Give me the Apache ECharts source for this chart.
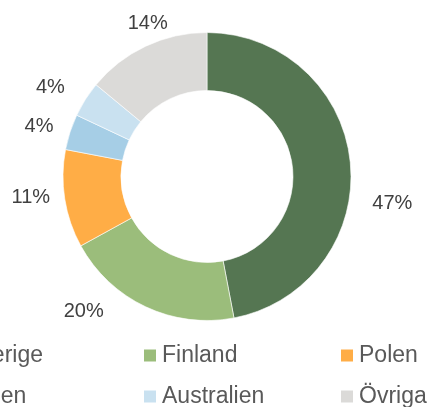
<!DOCTYPE html>
<html>
<head>
<meta charset="utf-8">
<script src="https://cdn.jsdelivr.net/npm/echarts@6/dist/echarts.min.js"></script>
<style>
html, body { margin: 0; padding: 0; background: #fff; }
#chart { width: 429px; height: 407px; }
</style>
</head>
<body>
<div id="chart"></div>
<script>
var countries = ['Sverige', 'Finland', 'Polen', 'Italien', 'Australien', 'Övriga'];
var shares = [47, 20, 11, 4, 4, 14];

var colors = ['#557652', '#9bbd7b', '#ffad46', '#a6cee6', '#c9e1f0', '#dbdad8'];
// label offsets (px) from the outer edge at the middle of each slice
var labelNudge = [[42, 41], [-62, 5], [-34, -2], [-31, -6], [-35, -12], [2, -23]];
// legend grid: 3 columns x 2 rows
var legendCols = [-55, 142, 339];
var legendRows = [344, 385];

var cx = 207, cy = 176.5, rInner = 86, rOuter = 144;
var total = shares.reduce(function (a, b) { return a + b; }, 0);

function edgePoint(i) {
    var before = 0;
    for (var j = 0; j < i; j++) before += shares[j];
    var a = (before + shares[i] / 2) / total * 2 * Math.PI;
    return [cx + rOuter * Math.sin(a), cy - rOuter * Math.cos(a)];
}

var myChart = echarts.init(document.getElementById('chart'));

var legendText = { color: '#595959', fontSize: 23, fontFamily: 'Liberation Sans, Arial, sans-serif', lineHeight: 20 };
var legends = countries.map(function (name, i) {
    return {
        left: legendCols[i % 3],
        top: legendRows[Math.floor(i / 3)],
        itemWidth: 14,
        itemHeight: 14,
        icon: 'rect',
        padding: 0,
        textStyle: legendText,
        data: [name]
    };
});

var option = {
    backgroundColor: '#fff',
    color: colors,
    animation: false,
    legend: legends,
    series: [
        {
            type: 'pie',
            center: [cx, cy],
            radius: [rInner, rOuter],
            startAngle: 90,
            clockwise: true,
            avoidLabelOverlap: false,
            itemStyle: { borderColor: '#fff', borderWidth: 0.6 },
            label: {
                show: true,
                position: 'outside',
                formatter: '{c}%',
                color: '#404040',
                fontSize: 20,
                fontFamily: 'Liberation Sans, Arial, sans-serif'
            },
            labelLine: { show: false },
            labelLayout: function (params) {
                var p = edgePoint(params.dataIndex);
                var n = labelNudge[params.dataIndex];
                return { x: p[0] + n[0], y: p[1] + n[1], align: 'center', verticalAlign: 'middle' };
            },
            emphasis: { disabled: true },
            data: countries.map(function (name, i) {
                return { name: name, value: shares[i] };
            })
        }
    ]
};

myChart.setOption(option);
</script>
</body>
</html>
